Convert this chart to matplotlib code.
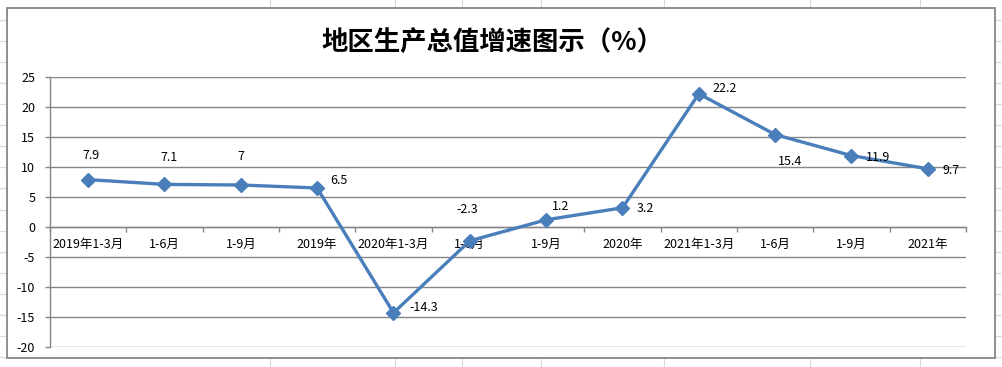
import matplotlib
matplotlib.use("Agg")
import matplotlib.pyplot as plt
from matplotlib.patches import Rectangle

plt.rcParams['font.family'] = ['Noto Sans CJK SC', 'DejaVu Sans']

categories = ["2019年1-3月", "1-6月", "1-9月", "2019年", "2020年1-3月", "1-6月",
              "1-9月", "2020年", "2021年1-3月", "1-6月", "1-9月", "2021年"]
values = [7.9, 7.1, 7.0, 6.5, -14.3, -2.3, 1.2, 3.2, 22.2, 15.4, 11.9, 9.7]
value_labels = ["7.9", "7.1", "7", "6.5", "-14.3", "-2.3", "1.2", "3.2", "22.2", "15.4", "11.9", "9.7"]
yticks = [-20, -15, -10, -5, 0, 5, 10, 15, 20, 25]
title = "地区生产总值增速图示（%）"

# label offsets in pixels (dx right, dy down)
label_offsets = [(3, -24), (4.5, -27), (0, -28), (22, -7), (30, -5), (-3, -31),
                 (14, -13), (23, 1), (26, -5), (15, 27), (27, 2), (23, 2)]

W, H = 1002, 367
fig = plt.figure(figsize=(W / 100, H / 100), dpi=100)

# background: spreadsheet cells
bg = fig.add_axes([0, 0, 1, 1])
bg.set_xlim(0, W)
bg.set_ylim(H, 0)
bg.axis('off')
sheet_col = '#D9D9D9'
for y in [20 + 21.06 * k for k in range(17)]:
    bg.plot([0, W], [y, y], color=sheet_col, lw=0.8, zorder=0)
for x in [270, 395, 462, 541, 664, 810, 920]:
    bg.plot([x, x], [0, H], color=sheet_col, lw=0.8, zorder=0)
bg.add_patch(Rectangle((7, 8), 988, 349.5, facecolor='white', edgecolor='#868686', lw=1.3, zorder=2))

fig.text(492 / W, 1 - 42 / H, title, ha='center', va='center', fontsize=19,
         fontweight='bold', color='black')

# plot area
L, R, T, B = 50, 966, 77, 347
ax = fig.add_axes([L / W, 1 - B / H, (R - L) / W, (B - T) / H])
ax.patch.set_alpha(0)
n = len(values)
xs = [i + 0.5 for i in range(n)]
ax.set_xlim(0, n)
ax.set_ylim(-20, 25)
ax.set_yticks(yticks)
ax.set_yticklabels([str(v) for v in yticks])
ax.yaxis.grid(True, color='#868686', lw=1.0)
ax.set_axisbelow(True)
for s in ['top', 'right']:
    ax.spines[s].set_visible(False)
ax.spines['left'].set_color('#868686')
ax.spines['left'].set_linewidth(1.0)
ax.spines['bottom'].set_position(('data', 0))
ax.spines['bottom'].set_color('#868686')
ax.spines['bottom'].set_linewidth(1.0)

ax.set_xticks(range(0, n + 1))
ax.set_xticklabels([''] * (n + 1))
ax.set_xticks(xs, minor=True)
ax.set_xticklabels(categories, minor=True)
ax.tick_params(axis='x', which='major', direction='out', length=3.6, color='#868686', width=1)
ax.tick_params(axis='x', which='minor', length=0, pad=8, labelsize=9)
ax.tick_params(axis='y', direction='out', length=3.6, color='#868686', width=1, pad=7, labelsize=9)

ax.plot(xs, values, color='#4A7EBB', lw=2.4, marker='D', markersize=7,
        markerfacecolor='#4A7EBB', markeredgecolor='#4A7EBB', zorder=3, clip_on=False)

for x, v, lab, (dx, dy) in zip(xs, values, value_labels, label_offsets):
    ax.annotate(lab, (x, v), xytext=(dx * 0.72, -dy * 0.72), textcoords='offset points',
                ha='center', va='center', fontsize=9, color='black')

fig.savefig('out.png', dpi=100)
